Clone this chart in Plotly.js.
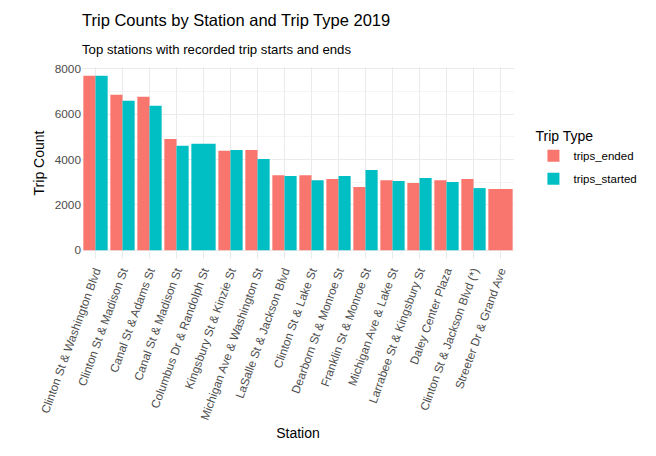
<!DOCTYPE html>
<html>
<head>
<meta charset="utf-8">
<script src="https://cdn.plot.ly/plotly-3.0.1.min.js"></script>
<style>html,body{margin:0;padding:0;background:#fff;}#chart{width:656px;height:456px;}</style>
</head>
<body>
<div id="chart"></div>
<script>
const stations = [
  "Clinton St & Washington Blvd",
  "Clinton St & Madison St",
  "Canal St & Adams St",
  "Canal St & Madison St",
  "Columbus Dr & Randolph St",
  "Kingsbury St & Kinzie St",
  "Michigan Ave & Washington St",
  "LaSalle St & Jackson Blvd",
  "Clinton St & Lake St",
  "Dearborn St & Monroe St",
  "Franklin St & Monroe St",
  "Michigan Ave & Lake St",
  "Larrabee St & Kingsbury St",
  "Daley Center Plaza",
  "Clinton St & Jackson Blvd (*)",
  "Streeter Dr & Grand Ave"
];
const tripsEnded   = [7690, 6850, 6760, 4900, null, 4380, 4420, 3310, 3310, 3140, 2790, 3090, 2960, 3090, 3140, 2700];
const tripsStarted = [7690, 6590, 6370, 4600, 4690, 4420, 4020, 3270, 3090, 3270, 3540, 3050, 3180, 3010, 2740, null];

const fullW = 0.9;
function geom(own, other, first) {
  const w = [], o = [];
  own.forEach((v, i) => {
    if (other[i] == null) { w.push(fullW); o.push(-fullW / 2); }
    else { w.push(fullW / 2); o.push(first ? -fullW / 2 : 0); }
  });
  return {w, o};
}
const gE = geom(tripsEnded, tripsStarted, true);
const gS = geom(tripsStarted, tripsEnded, false);

const font = "Liberation Sans, Arial, sans-serif";
const traces = [
  {type: "bar", name: "trips_ended", x: stations, y: tripsEnded, width: gE.w, offset: gE.o,
   legendgroup: "e", marker: {color: "#F8766D", line: {width: 0}}, hoverinfo: "x+y"},
  {type: "bar", name: "trips_started", x: stations, y: tripsStarted, width: gS.w, offset: gS.o,
   legendgroup: "s", marker: {color: "#00BFC4", line: {width: 0}}, hoverinfo: "x+y"}
];
const ymax = Math.max(...tripsEnded.filter(v => v != null), ...tripsStarted.filter(v => v != null));
const pad = ymax * 0.05;

const layout = {
  width: 656, height: 456,
  paper_bgcolor: "#fff", plot_bgcolor: "#fff",
  margin: {l: 82, r: 142, t: 67, b: 197},
  barmode: "overlay",
  font: {family: font, color: "#000"},
  title: {text: "Trip Counts by Station and Trip Type 2019", font: {size: 16.5, color: "#000", family: font},
          x: 0, xref: "paper", xanchor: "left", y: 1 - 20 / 456, yref: "container", yanchor: "middle"},
  annotations: [{text: "Top stations with recorded trip starts and ends", xref: "paper", yref: "paper",
    x: -0.005, y: (259 - 50) / 192, xanchor: "left", yanchor: "middle", showarrow: false,
    font: {size: 13.2, color: "#000", family: font}}],
  xaxis: {type: "category", tickangle: -70, showgrid: true, gridcolor: "#EBEBEB", gridwidth: 1.1,
    zeroline: false, showline: false, ticks: "", tickfont: {size: 11.8, color: "#4D4D4D"},
    ticklabelstandoff: 2,
    title: {text: "Station", font: {size: 14, color: "#000"}, standoff: 7}},
  yaxis: {range: [-pad, ymax + pad], tickvals: [0, 2000, 4000, 6000, 8000], ticktext: ["0","2000","4000","6000","8000"],
    showgrid: true, gridcolor: "#EBEBEB", gridwidth: 1.1, zeroline: false, showline: false, ticks: "",
    tickfont: {size: 11.8, color: "#4D4D4D"},
    minor: {tickvals: [1000, 3000, 5000, 7000], showgrid: true, gridcolor: "#EBEBEB", gridwidth: 0.55},
    title: {text: "Trip Count", font: {size: 14, color: "#000"}, standoff: 6}},
  legend: {x: 1.045, xanchor: "left", y: (259 - 123) / 192, yanchor: "top", font: {size: 11.5, color: "#000"},
    title: {text: "Trip Type", font: {size: 14, color: "#000"}}, tracegroupgap: 4, itemwidth: 30},
  showlegend: true
};
Plotly.newPlot("chart", traces, layout, {displayModeBar: false, staticPlot: true});
</script>
</body>
</html>
